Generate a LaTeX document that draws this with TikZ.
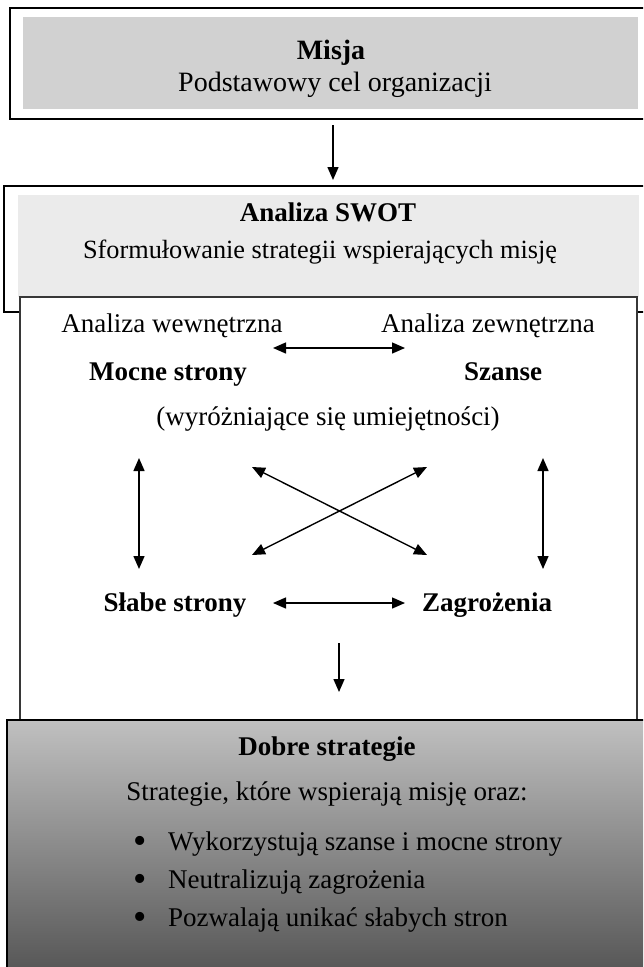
\documentclass[tikz,border=0pt]{standalone}
\usepackage{fontspec}
\setmainfont{Liberation Serif}
\usetikzlibrary{arrows.meta}

\definecolor{misjafill}{RGB}{209,209,209}
\definecolor{swotfill}{RGB}{235,235,235}
\definecolor{framegray}{RGB}{55,55,55}
\definecolor{shadetop}{RGB}{192,192,192}
\definecolor{shademid}{RGB}{164,164,164}
\definecolor{shadebot}{RGB}{88,88,88}

\begin{document}
\begin{tikzpicture}[x=1pt,y=-1pt,
  txt/.style={inner sep=0pt, anchor=base, font=\fontsize{27pt}{32pt}\selectfont},
  head/.style={txt, font=\fontsize{27pt}{32pt}\selectfont\bfseries},
  item/.style={txt, anchor=base west},
  dot/.style={txt, font=\fontsize{38pt}{40pt}\selectfont},
  frame/.style={draw=black, line width=1.8pt},
  inner/.style={draw=framegray, line width=1.5pt, fill=white},
  tip/.tip={Triangle[length=13pt,width=11pt]},
  link/.style={line width=1.4pt, -tip},
  dlink/.style={line width=1.4pt, tip-tip},
]
\useasboundingbox (0,0) rectangle (643,967);
\clip (0,0) rectangle (643,967);

% mission box
\draw[frame] (10,8) rectangle (700,119);
\fill[misjafill] (23,17) rectangle (638,109);
\node[head, font=\fontsize{28pt}{32pt}\selectfont\bfseries] (misja) at (331,59) {Misja};
\node[txt, font=\fontsize{28pt}{32pt}\selectfont] (misjatxt) at (335,91) {Podstawowy cel organizacji};

\coordinate (a1s) at (333,125);
\coordinate (a1e) at (333,180);
\draw[link] (a1s) -- (a1e);

% SWOT box
\draw[frame] (4,186) rectangle (700,312);
\fill[swotfill] (18,195) rectangle (639,297);
\node[head] (swot) at (328,221) {Analiza SWOT};
\node[txt, font=\fontsize{26.3pt}{32pt}\selectfont] (swottxt) at (320,258) {Sformułowanie strategii wspierających misję};

% analysis panel
\draw[inner] (20,297) rectangle (637,760);

\node[txt] (wew) at (172,332) {Analiza wewnętrzna};
\node[txt] (zew) at (488,332) {Analiza zewnętrzna};
\node[head] (mocne) at (168,380) {Mocne strony};
\node[head] (szanse) at (503,380) {Szanse};
\node[txt] (umiej) at (328,425) {(wyróżniające się umiejętności)};
\node[head] (slabe) at (175,611) {Słabe strony};
\node[head] (zagr) at (487,611) {Zagrożenia};

\coordinate (h1a) at (273,348);
\coordinate (h1b) at (405,348);
\draw[dlink] (h1a) -- (h1b);

\coordinate (h2a) at (273,603);
\coordinate (h2b) at (405,603);
\draw[dlink] (h2a) -- (h2b);

\coordinate (vla) at (139,458);
\coordinate (vlb) at (139,569);
\draw[dlink] (vla) -- (vlb);

\coordinate (vra) at (543,458);
\coordinate (vrb) at (543,569);
\draw[dlink] (vra) -- (vrb);

\coordinate (dtl) at (252,467);
\coordinate (dbl) at (252,555);
\coordinate (dtr) at (427,467);
\coordinate (dbr) at (427,555);
\draw[dlink] (dtl) -- (dbr);
\draw[dlink] (dbl) -- (dtr);

\coordinate (a2s) at (339,643);
\coordinate (a2e) at (339,692);
\draw[link] (a2s) -- (a2e);

% strategies box
\shade[top color=shadetop, middle color=shademid, bottom color=shadebot]
  (7,720) rectangle (700,967);
\draw[frame] (700,720) -- (7,720) -- (7,990);

\node[head] (dobre) at (327,755) {Dobre strategie};
\node[txt] (dobretxt) at (327,800) {Strategie, które wspierają misję oraz:};
\node[dot] (b1) at (140,853) {\textbullet};
\node[dot] (b2) at (140,891) {\textbullet};
\node[dot] (b3) at (140,929) {\textbullet};
\node[item] (i1) at (168,850) {Wykorzystują szanse i mocne strony};
\node[item] (i2) at (168,888) {Neutralizują zagrożenia};
\node[item] (i3) at (168,926) {Pozwalają unikać słabych stron};
\end{tikzpicture}
\end{document}
